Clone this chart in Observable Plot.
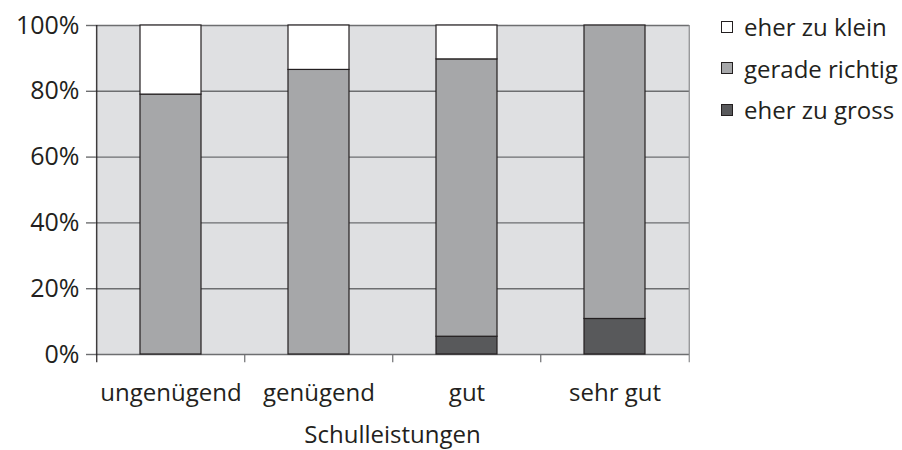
<!DOCTYPE html>
<html>
<head>
<meta charset="utf-8">
<script src="https://cdn.jsdelivr.net/npm/d3@7"></script>
<script src="https://cdn.jsdelivr.net/npm/@observablehq/plot@0.6"></script>
<style>
  body { margin: 0; background: #fff; font-family: "Open Sans", sans-serif; }
  #wrap { position: relative; width: 902px; height: 450px; }
  #legend { position: absolute; left: 721px; top: 6px; color: #231f20; font-size: 24px; }
  .row { height: 41.5px; line-height: 41.5px; display: flex; align-items: center; white-space: nowrap; }
  .sw { width: 12px; height: 12px; box-sizing: border-box; border: 1px solid #231f20; margin-right: 11px; flex: none; }
</style>
</head>
<body>
<div id="wrap"><div id="chart"></div><div id="legend"></div></div>
<script>
const categories = ["ungenügend", "genügend", "gut", "sehr gut"];
const series = ["eher zu gross", "gerade richtig", "eher zu klein"];
const zuGross = [0, 0, 0.054, 0.108];
const geradeRichtig = [0.79, 0.865, 0.843, 0.892];
const zuKlein = [0.21, 0.135, 0.103, 0];
const yTicks = [0, 0.2, 0.4, 0.6, 0.8, 1];
const colors = ["#58595b", "#a6a7a9", "#ffffff"];
const xTitle = "Schulleistungen";
const legendOrder = ["eher zu klein", "gerade richtig", "eher zu gross"];

const W = 902, H = 450, mL = 95, mR = 213, mT = 25, mB = 96;
const step = (W - mL - mR) / categories.length;

const data = [];
categories.forEach((c, i) => {
  data.push({cat: c, s: series[0], v: zuGross[i]});
  data.push({cat: c, s: series[1], v: geradeRichtig[i]});
  data.push({cat: c, s: series[2], v: zuKlein[i]});
});
const bars = data.filter(d => d.v > 0);

const grid = "#6d6e70";
const chart = Plot.plot({
  width: W, height: H,
  marginLeft: mL, marginRight: mR, marginTop: mT, marginBottom: mB,
  style: {fontFamily: "Open Sans, sans-serif", fontSize: "24px", color: "#231f20", background: "#fff"},
  x: {type: "band", domain: categories, paddingInner: 0.59, paddingOuter: 0.295, label: null},
  y: {domain: [0, 1], label: null},
  color: {domain: series, range: colors},
  marks: [
    Plot.frame({fill: "#dfe0e2", stroke: "none"}),
    Plot.ruleY(yTicks, {stroke: grid, strokeWidth: 1.4}),
    Plot.barY(bars, Plot.stackY({x: "cat", y: "v", fill: "s", order: series, stroke: "#231f20", strokeWidth: 1.2})),
    Plot.ruleX(categories.slice(1), {x: d => d, dx: -step / 2, y1: -0.025, y2: 0, stroke: grid, strokeWidth: 1.2}),
    Plot.ruleX([categories[0]], {x: d => d, dx: -step / 2, y1: -0.025, y2: 1, stroke: "#231f20", strokeWidth: 1.2}),
    Plot.ruleX([categories[categories.length - 1]], {x: d => d, dx: step / 2, y1: -0.025, y2: 1, stroke: "#8a8b8d", strokeWidth: 1.2}),
    Plot.axisY(yTicks, {tickSize: 9, tickPadding: 7, fontSize: 25, stroke: grid, strokeWidth: 1.4, tickFormat: d => Math.round(d * 100) + "%", label: null}),
    Plot.axisX({tickSize: 0, tickPadding: 29, fontSize: 24, label: null}),
    Plot.text([xTitle], {text: d => d, frameAnchor: "bottom", dy: 88, fontSize: 24})
  ]
});
document.getElementById("chart").appendChild(chart);

const lg = document.getElementById("legend");
legendOrder.forEach(name => {
  const row = document.createElement("div");
  row.className = "row";
  const sw = document.createElement("span");
  sw.className = "sw";
  sw.style.background = colors[series.indexOf(name)];
  const t = document.createElement("span");
  t.textContent = name;
  row.appendChild(sw);
  row.appendChild(t);
  lg.appendChild(row);
});
</script>
</body>
</html>
